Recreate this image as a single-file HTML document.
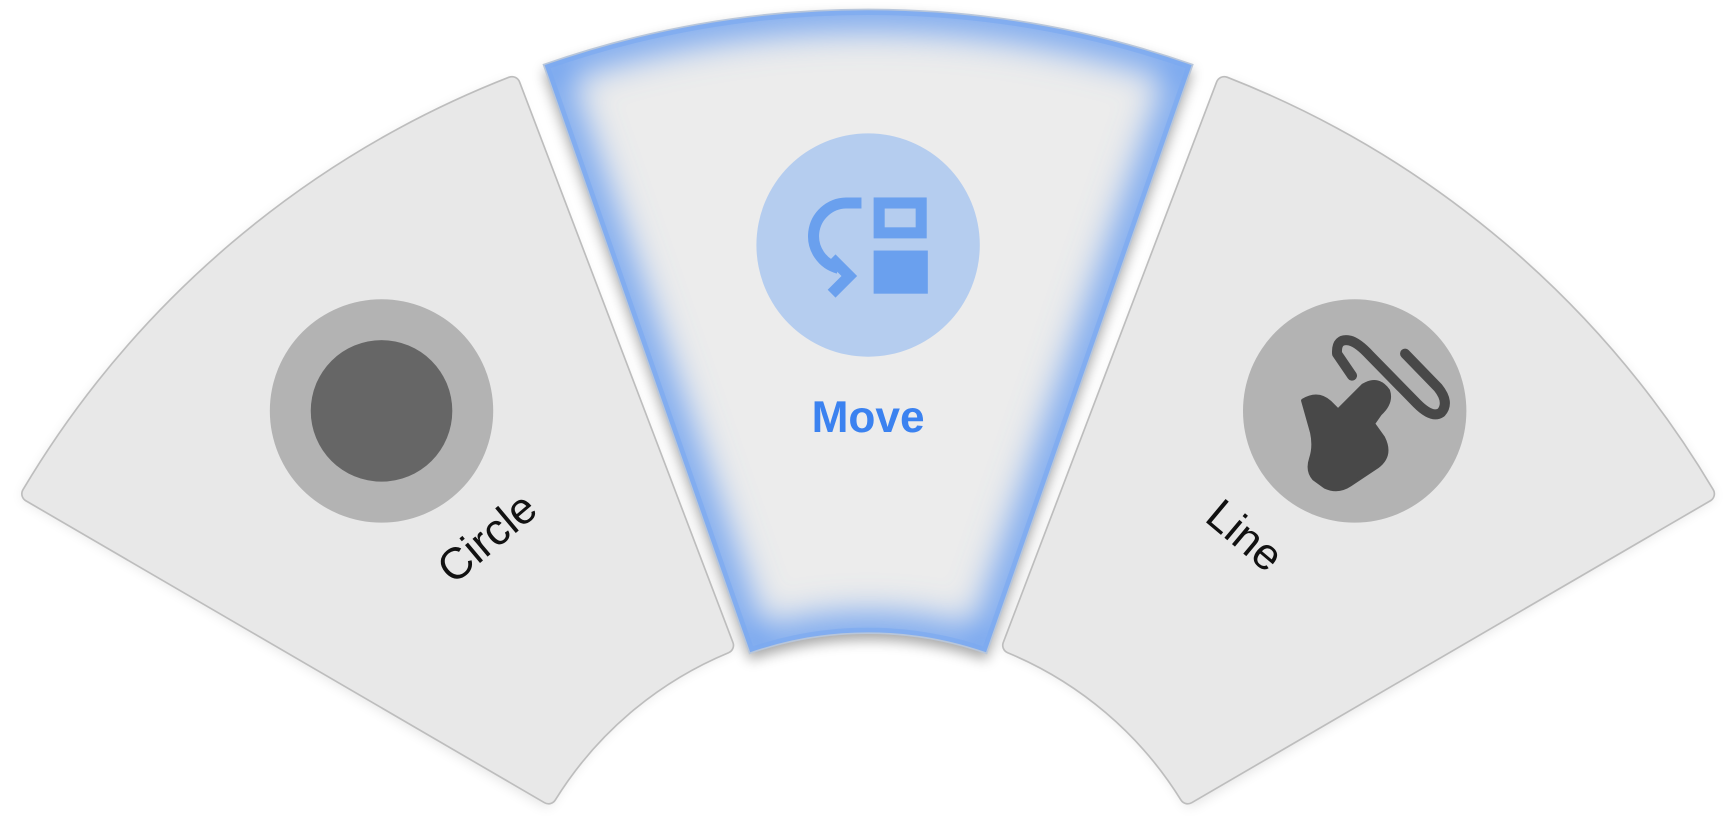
<!DOCTYPE html>
<html><head><style>
html,body{margin:0;padding:0;background:#fff;}
svg{display:block;}
</style></head><body>
<svg width="1734" height="824" viewBox="0 0 1568 744" xmlns="http://www.w3.org/2000/svg">
<defs>
<filter id="sh" x="-20%" y="-20%" width="140%" height="140%"><feGaussianBlur stdDeviation="6"/></filter>
<filter id="gl" x="-20%" y="-20%" width="140%" height="140%"><feGaussianBlur stdDeviation="16"/></filter>
<clipPath id="mc"><path d="M491.5,57.9 A888,888 0 0 1 1078.5,57.9 L892.1,590.2 A324,324 0 0 0 677.9,590.2 Z"/></clipPath>
</defs>
<!-- shadows -->
<path d="M462.4,72.6 A888,888 0 0 0 19.9,449.3 L495.5,729.5 A336,336 0 0 1 662.9,586.9 Z" fill="#000" opacity="0.12" filter="url(#sh)"/>
<path d="M1107.6,72.6 A888,888 0 0 1 1550.1,449.3 L1074.5,729.5 A336,336 0 0 0 907.1,586.9 Z" fill="#000" opacity="0.12" filter="url(#sh)"/>
<path d="M491.5,63.9 A888,888 0 0 1 1078.5,63.9 L892.1,596.2 A324,324 0 0 0 677.9,596.2 Z" fill="#000" opacity="0.35" filter="url(#sh)"/>
<!-- side panels -->
<g stroke-linejoin="round">
<path d="M463,76 A881,881 0 0 0 27,446 L496,719 A343,343 0 0 1 656,583 Z" fill="#bdbdbd" stroke="#bdbdbd" stroke-width="16"/>
<path d="M463,76 A881,881 0 0 0 27,446 L496,719 A343,343 0 0 1 656,583 Z" fill="#e8e8e8" stroke="#e8e8e8" stroke-width="13"/>
<path d="M1107,76 A881,881 0 0 1 1543,446 L1074,719 A343,343 0 0 0 914,583 Z" fill="#bdbdbd" stroke="#bdbdbd" stroke-width="16"/>
<path d="M1107,76 A881,881 0 0 1 1543,446 L1074,719 A343,343 0 0 0 914,583 Z" fill="#e8e8e8" stroke="#e8e8e8" stroke-width="13"/>
</g>
<!-- middle -->
<g clip-path="url(#mc)">
<rect x="400" y="0" width="800" height="700" fill="#ececec"/>
<path d="M491.5,57.9 A888,888 0 0 1 1078.5,57.9 L892.1,590.2 A324,324 0 0 0 677.9,590.2 Z" fill="none" stroke="#6b9ff0" stroke-width="34" filter="url(#gl)"/>
<path d="M491.5,57.9 A888,888 0 0 1 1078.5,57.9 L892.1,590.2 A324,324 0 0 0 677.9,590.2 Z" fill="none" stroke="#7aa9f0" stroke-width="10" opacity="0.6"/>
</g>
<path d="M491.5,57.9 A888,888 0 0 1 1078.5,57.9 L892.1,590.2 A324,324 0 0 0 677.9,590.2 Z" fill="none" stroke="#b8c6da" stroke-width="1.5"/>
<!-- circle icon -->
<circle cx="345" cy="371" r="101" fill="#b3b3b3"/>
<circle cx="345" cy="371" r="64" fill="#666"/>
<!-- move icon -->
<circle cx="785" cy="221" r="101" fill="#b5cdef"/>
<g fill="none" stroke="#6aa0ee" stroke-width="10">
<path d="M779,183 H765 A30,30 0 0 0 758,242"/>
<path d="M752,233 L768,249 L752,265"/>
<rect x="795" y="183" width="38" height="27"/>
</g>
<rect x="790" y="226" width="49" height="39" fill="#6aa0ee"/>
<text x="785" y="390" text-anchor="middle" font-family="Liberation Sans, sans-serif" font-weight="bold" font-size="40" fill="#3b82f0">Move</text>
<!-- line icon -->
<circle cx="1225" cy="371" r="101" fill="#b3b3b3"/>
<g transform="scale(0.9043)">
<path d="M1352,375 L1337,353 Q1336,337 1350,340 Q1358,342 1370,355 L1417,403 Q1432,418 1441,412 Q1450,402 1438,387 L1405,353" fill="none" stroke="#484848" stroke-width="10" stroke-linecap="round" stroke-linejoin="round"/>
<path d="M1303,400 Q1318,391 1330,402 L1338,410 L1363,385 Q1378,376 1388,390 Q1392,402 1380,413 L1373,423 L1383,437 Q1392,455 1377,466 L1350,484 Q1338,492 1325,486 L1314,478 Q1307,470 1311,458 Q1315,446 1312,432 Z" fill="#484848" stroke="#484848" stroke-width="4" stroke-linejoin="round"/>
</g>
<!-- labels -->
<text transform="translate(449,496) rotate(-40)" text-anchor="middle" font-family="Liberation Sans, sans-serif" font-size="40" fill="#111">Circle</text>
<text transform="translate(1117,494) rotate(40)" text-anchor="middle" font-family="Liberation Sans, sans-serif" font-size="40" fill="#111">Line</text>
</svg>
</body></html>
